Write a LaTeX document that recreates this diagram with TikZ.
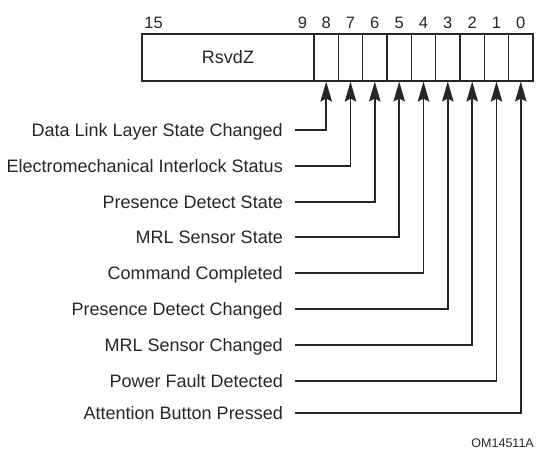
\documentclass[tikz,border=0pt]{standalone}
\usepackage{fontspec}
\setmainfont{Liberation Sans}
\usetikzlibrary{positioning,arrows.meta}
\definecolor{inkgray}{HTML}{262626}
\tikzset{
    bitcell/.style={
        inner sep=0,
        draw=inkgray,
        line width=1.1pt,
        minimum width=24.33pt,
        minimum height=47pt,
        text=inkgray,
        font=\fontsize{18}{18}\selectfont,
    },
    bitnum/.style={
        inner sep=0,
        text height=12pt,
        text depth=0pt,
        text=inkgray,
        font=\fontsize{16.5}{16.5}\selectfont,
    },
    fieldname/.style={
        inner sep=0,
        anchor=east,
        text height=12.9pt,
        text depth=0pt,
        text=inkgray,
        font=\fontsize{18}{18}\selectfont,
    },
    feed/.style={
        draw=inkgray,
        line width=1.8pt,
        -{Stealth[length=20pt,width=11.5pt,inset=3pt]},
    },
}

\begin{document}
\begin{tikzpicture}[x=1pt,y=-1pt]
            \useasboundingbox (0,0) rectangle (536,449);

            % register fields
            \node[bitcell, minimum width=172pt] at (228, 57.5) (rsvd) {RsvdZ} ;
            \node[bitcell] at (326.2, 57.5) (b8) {} ;
            \node[bitcell] at (350.5, 57.5) (b7) {} ;
            \node[bitcell] at (374.8, 57.5) (b6) {} ;
            \node[bitcell] at (399.2, 57.5) (b5) {} ;
            \node[bitcell] at (423.5, 57.5) (b4) {} ;
            \node[bitcell] at (447.8, 57.5) (b3) {} ;
            \node[bitcell] at (472.2, 57.5) (b2) {} ;
            \node[bitcell] at (496.5, 57.5) (b1) {} ;
            \node[bitcell] at (520.8, 57.5) (b0) {} ;
            \draw[inkgray, line width=1.8pt] (rsvd.north west) rectangle (b0.south east) ;

            % bit numbers
            \node[bitnum, above=5pt of rsvd.north west, xshift=12.2pt] (n15) {15} ;
            \node[bitnum, above=5pt of rsvd.north east, xshift=-12.2pt] (n9) {9} ;
            \node[bitnum, above=5pt of b8] (n8) {8} ;
            \node[bitnum, above=5pt of b7] (n7) {7} ;
            \node[bitnum, above=5pt of b6] (n6) {6} ;
            \node[bitnum, above=5pt of b5] (n5) {5} ;
            \node[bitnum, above=5pt of b4] (n4) {4} ;
            \node[bitnum, above=5pt of b3] (n3) {3} ;
            \node[bitnum, above=5pt of b2] (n2) {2} ;
            \node[bitnum, above=5pt of b1] (n1) {1} ;
            \node[bitnum, above=5pt of b0] (n0) {0} ;

            % field names
            \node[fieldname] at (283, 130) (dllchg) {Data Link Layer State Changed} ;
            \node[fieldname] at (283, 166) (emistat) {Electromechanical Interlock Status} ;
            \node[fieldname] at (283, 202) (pdstate) {Presence Detect State} ;
            \node[fieldname] at (283, 237) (mrlstate) {MRL Sensor State} ;
            \node[fieldname] at (283, 273) (cmdcpl) {Command Completed} ;
            \node[fieldname] at (283, 309) (pdchg) {Presence Detect Changed} ;
            \node[fieldname] at (283, 345) (mrlchg) {MRL Sensor Changed} ;
            \node[fieldname] at (283, 381) (pfdet) {Power Fault Detected} ;
            \node[fieldname] at (283, 413) (abpress) {Attention Button Pressed} ;

            \draw[feed] ([xshift=12pt]dllchg.east) -| (b8.south) ;
            \draw[feed] ([xshift=12pt]emistat.east) -| (b7.south) ;
            \draw[feed] ([xshift=12pt]pdstate.east) -| (b6.south) ;
            \draw[feed] ([xshift=12pt]mrlstate.east) -| (b5.south) ;
            \draw[feed] ([xshift=12pt]cmdcpl.east) -| (b4.south) ;
            \draw[feed] ([xshift=12pt]pdchg.east) -| (b3.south) ;
            \draw[feed] ([xshift=12pt]mrlchg.east) -| (b2.south) ;
            \draw[feed] ([xshift=12pt]pfdet.east) -| (b1.south) ;
            \draw[feed] ([xshift=12pt]abpress.east) -| (b0.south) ;

            \node[inner sep=0, anchor=east, text=inkgray, font=\fontsize{12.5}{12.5}\selectfont] at (534, 443) (figid) {OM14511A} ;
        \end{tikzpicture}
\end{document}
